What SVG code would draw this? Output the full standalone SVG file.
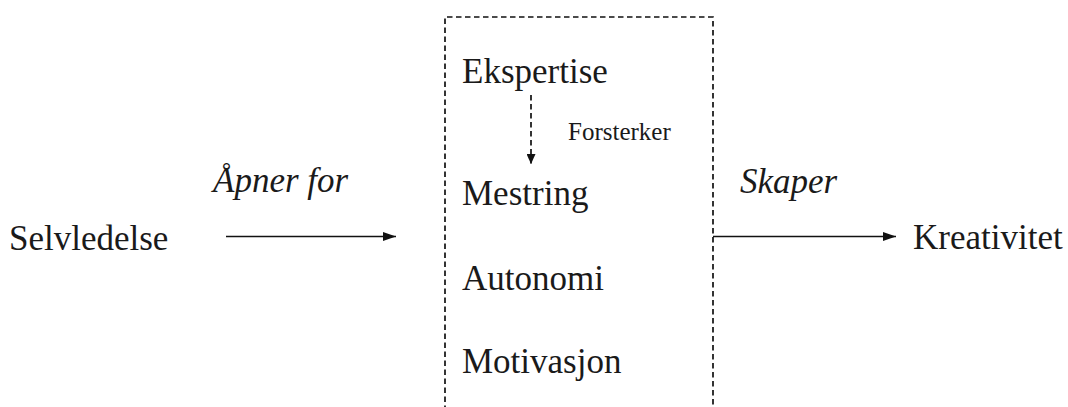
<svg xmlns="http://www.w3.org/2000/svg" width="1068" height="407" viewBox="0 0 1068 407">
  <style>
    .lbl { font-family: "Liberation Serif", "Times New Roman", serif; font-size: 35px; fill: #1a1a1a; }
    .edge { font-family: "Liberation Serif", "Times New Roman", serif; font-size: 35px; font-style: italic; fill: #1a1a1a; }
    .small { font-family: "Liberation Serif", "Times New Roman", serif; font-size: 25px; fill: #1a1a1a; }
    .box { fill: none; stroke: #111111; stroke-width: 1.7; stroke-dasharray: 5.5 3.5; }
    .line { fill: none; stroke: #111111; stroke-width: 1.7; }
    .dline { fill: none; stroke: #111111; stroke-width: 1.7; stroke-dasharray: 5.5 3.5; }
  </style>
  <defs>
    <marker id="head" viewBox="0 0 13 9" refX="13" refY="4.5" markerWidth="13" markerHeight="9" markerUnits="userSpaceOnUse" orient="auto">
      <path d="M0,0 L13,4.5 L0,9 Z" fill="#111111"/>
    </marker>
    <marker id="headSmall" viewBox="0 0 10 9" refX="10" refY="4.5" markerWidth="10" markerHeight="9" markerUnits="userSpaceOnUse" orient="auto">
      <path d="M0,0 L10,4.5 L0,9 Z" fill="#111111"/>
    </marker>
  </defs>

  <rect width="1068" height="407" fill="#ffffff"/>

  <!-- open-bottomed dashed frame around the inner factors -->
  <g id="frame">
    <path class="box" d="M445,420 L445,17 L713,17 L713,420"/>
  </g>

  <g id="selvledelse">
    <text class="lbl" x="9" y="250">Selvledelse</text>
  </g>

  <g id="ekspertise">
    <text class="lbl" x="462" y="83">Ekspertise</text>
  </g>

  <g id="mestring">
    <text class="lbl" x="462" y="205">Mestring</text>
  </g>

  <g id="autonomi">
    <text class="lbl" x="462" y="290">Autonomi</text>
  </g>

  <g id="motivasjon">
    <text class="lbl" x="462" y="373">Motivasjon</text>
  </g>

  <g id="kreativitet">
    <text class="lbl" x="913" y="249">Kreativitet</text>
  </g>

  <g id="connectors">
    <line class="line" x1="226" y1="236.5" x2="396" y2="236.5" marker-end="url(#head)"/>
    <text class="edge" x="213" y="192">Åpner for</text>

    <line class="line" x1="713" y1="236.5" x2="896" y2="236.5" marker-end="url(#head)"/>
    <text class="edge" x="740" y="193">Skaper</text>

    <line class="dline" x1="531" y1="95" x2="531" y2="164" marker-end="url(#headSmall)"/>
    <text class="small" x="568" y="140">Forsterker</text>
  </g>
</svg>
